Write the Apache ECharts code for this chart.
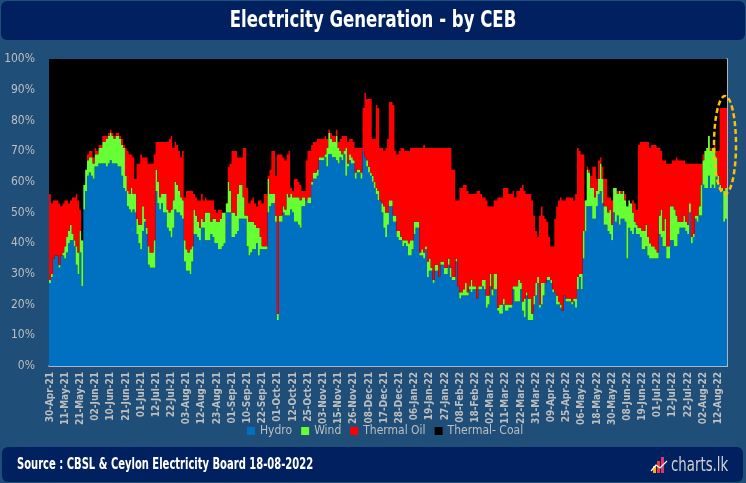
<!DOCTYPE html>
<html><head><meta charset="utf-8">
<script src="https://cdn.jsdelivr.net/npm/echarts@6/dist/echarts.min.js"></script>
<style>html,body{margin:0;padding:0;background:#fff}#c{width:746px;height:483px}</style>
</head><body><div id="c"></div>
<script>
const tickLabels = ['30-Apr-21','11-May-21','21-May-21','02-Jun-21','10-Jun-21','21-Jun-21','01-Jul-21','12-Jul-21','22-Jul-21','03-Aug-21','12-Aug-21','23-Aug-21','01-Sep-21','10-Sep-21','22-Sep-21','01-Oct-21','12-Oct-21','25-Oct-21','03-Nov-21','15-Nov-21','26-Nov-21','08-Dec-21','17-Dec-21','28-Dec-21','06-Jan-22','19-Jan-22','27-Jan-22','08-Feb-22','18-Feb-22','02-Mar-22','11-Mar-22','22-Mar-22','31-Mar-22','09-Apr-22','25-Apr-22','06-May-22','18-May-22','30-May-22','08-Jun-22','19-Jun-22','01-Jul-22','12-Jul-22','22-Jul-22','02-Aug-22','12-Aug-22'];

// share of generation (%) per reporting day
const hydro = [
27,29,35,36,36,32,36,36,35,37,40,41,41,39,33,30,37,26,51,57,
62,63,62,61,65,65,66,66,66,66,65,66,67,66,66,66,65,65,62,58,
57,52,51,50,51,50,43,40,38,44,47,43,33,32,32,32,57,53,51,53,
50,50,45,44,42,45,51,50,50,49,48,34,31,31,30,34,43,43,42,41,
45,45,41,41,41,43,42,40,40,38,38,39,40,50,50,50,42,42,43,44,
48,48,48,48,39,36,37,38,38,40,36,38,38,38,38,50,52,53,53,47,
15,47,47,50,49,49,49,51,50,47,47,46,45,52,52,54,53,53,59,61,
61,62,67,67,67,68,65,69,69,68,68,67,66,68,67,69,62,65,67,66,
66,61,63,63,61,70,68,65,63,62,60,58,56,54,54,50,45,42,46,52,
52,47,47,42,41,41,39,40,39,36,36,38,43,45,45,36,36,35,38,29,
31,31,27,31,31,29,33,33,30,30,33,29,28,28,34,26,22,23,23,23,
23,25,24,25,25,22,25,25,26,25,19,20,26,23,25,25,18,17,17,20,
18,18,19,19,25,21,21,21,25,18,16,23,15,15,15,20,23,27,19,20,
23,27,28,28,27,24,24,20,20,19,18,23,21,21,21,20,21,19,25,29,
25,35,44,52,52,52,48,48,52,56,57,53,46,46,44,43,41,50,47,49,
46,48,48,47,35,45,44,43,45,43,43,42,38,38,39,36,35,35,35,35,
35,43,42,39,39,35,35,41,41,39,39,43,45,45,45,44,43,50,40,42,
48,47,49,49,59,58,58,62,58,59,58,63,59,58,57,47,48];
const wind = [
1,1,0,0,0,1,0,1,4,5,4,5,2,2,6,7,7,15,8,7,
5,5,6,5,4,4,5,5,7,7,9,9,9,9,8,9,10,9,10,13,
5,5,5,8,5,6,5,6,8,8,1,2,6,5,5,9,7,7,4,3,
6,6,6,6,9,9,9,9,7,6,6,7,7,6,8,5,8,6,5,4,
3,2,9,9,9,4,6,8,7,9,10,11,10,3,10,7,8,8,6,12,
11,11,7,1,10,11,10,9,8,5,9,4,1,1,1,11,4,3,3,2,
2,2,2,2,2,7,6,5,5,8,8,9,9,3,3,0,2,2,1,2,
2,2,1,1,1,1,6,7,5,5,5,8,5,2,2,1,9,1,2,2,
1,2,1,1,2,0,0,2,2,1,2,2,2,3,0,3,7,8,4,2,
2,2,2,2,3,1,2,1,2,4,5,3,4,2,2,1,2,2,1,5,
4,1,1,2,2,0,1,1,2,2,2,3,1,1,1,0,2,1,2,4,
1,1,4,1,1,0,1,1,2,3,4,3,4,2,5,5,1,3,3,2,
2,2,1,1,1,5,5,7,2,3,6,1,7,7,2,3,4,2,1,7,
4,0,1,1,1,1,0,3,1,1,0,0,1,1,1,1,1,3,4,1,
5,9,10,12,11,6,10,7,5,5,9,8,6,6,6,8,5,8,11,7,
11,8,9,7,17,9,9,7,2,3,2,3,6,6,7,6,5,4,4,3,
2,6,9,5,9,4,4,11,11,12,10,4,2,2,4,3,3,3,2,1,
1,2,3,10,8,12,13,13,12,12,13,5,3,1,1,10,10];
const thermalOil = [
28,23,19,18,18,20,16,16,15,12,9,8,12,14,17,17,7,0,0,0,
2,2,2,2,2,1,1,1,2,2,1,1,1,1,1,1,1,1,2,1,
9,13,13,11,12,5,18,20,23,16,20,23,27,29,29,28,9,13,18,17,
17,17,22,24,24,17,13,13,13,13,16,14,19,20,19,18,5,6,7,9,
8,7,5,4,4,7,6,3,3,4,3,0,0,0,5,9,20,20,21,12,
9,9,16,22,9,6,7,8,7,7,9,12,14,17,17,1,8,14,14,13,
52,20,20,16,16,13,15,2,2,6,6,5,5,2,2,13,15,15,12,10,
10,10,6,6,6,6,3,1,2,2,2,2,2,4,6,5,4,7,5,6,
6,8,7,7,8,14,21,20,22,24,12,14,27,27,17,18,18,21,24,32,
32,36,21,25,26,29,30,29,29,30,30,30,24,24,24,34,33,35,32,37,
36,39,43,38,38,42,37,37,39,39,36,39,35,35,19,28,34,34,34,32,
33,30,28,30,30,35,31,30,27,27,31,29,22,27,24,24,36,35,35,36,
38,38,36,36,31,29,31,29,31,38,35,32,34,34,37,26,17,13,29,25,
22,21,18,13,11,14,24,29,33,35,36,31,33,33,33,34,32,34,42,40,
39,25,0,1,1,4,7,10,4,6,2,4,9,9,5,4,8,0,0,1,
0,1,0,2,0,0,0,4,6,5,27,28,29,29,27,31,31,33,33,34,
34,22,19,23,19,27,27,14,15,16,19,20,20,20,18,19,20,13,24,23,
17,17,14,7,2,0,0,0,1,0,1,2,8,25,26,27,26];
const thermalCoal = [
44,47,46,46,46,47,48,47,46,46,47,46,45,45,44,46,49,59,41,36,
31,30,30,32,29,30,28,28,25,25,25,24,23,24,25,24,24,25,26,28,
29,30,31,31,32,39,34,34,31,32,32,32,34,34,34,31,27,27,27,27,
27,27,27,26,25,29,27,28,30,32,30,45,43,43,43,43,44,45,46,46,
44,46,45,46,46,46,46,49,50,49,49,50,50,47,35,34,30,30,30,32,
32,32,29,29,42,47,46,45,47,48,46,46,47,44,44,38,36,30,30,38,
31,31,31,32,33,31,30,42,43,39,39,40,41,43,43,33,30,30,28,27,
27,26,26,26,26,25,26,23,24,25,25,23,27,26,25,25,25,27,26,26,
27,29,29,29,29,16,11,13,13,13,26,26,15,16,29,29,30,29,26,14,
14,15,30,31,30,29,29,30,30,30,29,29,29,29,29,29,29,28,29,29,
29,29,29,29,29,29,29,29,29,29,29,29,36,36,46,46,42,42,41,41,
43,44,44,44,44,43,43,44,45,45,46,48,48,48,46,46,45,45,45,42,
42,42,44,44,43,45,43,43,42,41,43,44,44,44,46,51,56,58,51,48,
51,52,53,58,61,61,52,48,46,45,46,46,45,45,45,45,46,44,29,30,
31,31,46,35,36,38,35,35,39,33,32,35,39,39,45,45,46,42,42,43,
43,43,43,44,48,46,47,46,47,49,28,27,27,27,27,27,29,28,28,28,
29,29,30,33,33,34,34,34,33,33,32,33,33,33,33,34,34,34,34,34,
34,34,34,34,31,30,29,25,29,29,28,30,30,16,16,16,16];

const seriesNames = ['Hydro','Wind','Thermal Oil','Thermal- Coal'];
const seriesColors = ['#0070C0','#66FF33','#FF0000','#000000'];
const categories = hydro.map((_, i) => {
  const k = Math.floor(i / 8), j = i % 8;
  return j === 0 ? tickLabels[k] : tickLabels[k] + ' +' + j;
});

const F = "'Liberation Sans Narrow','DejaVu Sans Condensed','Arial Narrow',sans-serif";
const chart = echarts.init(document.getElementById('c'), null, {renderer: 'canvas'});
const dataSets = [hydro, wind, thermalOil, thermalCoal];

chart.setOption({
  backgroundColor: '#1F4E79',
  animation: false,
  grid: {left: 49, right: 19, top: 59, bottom: 117, show: true, backgroundColor: '#000', borderWidth: 0},
  legend: {
    data: seriesNames, left: 247, top: 425, padding: 0, icon: 'rect',
    itemWidth: 8, itemHeight: 8, itemGap: 9,
    textStyle: {color: '#BFBFBF', fontSize: 12, fontFamily: F}
  },
  xAxis: {
    type: 'category', data: categories, boundaryGap: true,
    axisLine: {show: true, lineStyle: {color: '#D9D9D9', width: 1.5}},
    axisTick: {show: false},
    axisLabel: {interval: 7, rotate: 90, margin: 6, align: 'right', verticalAlign: 'middle',
      color: '#BFBFBF', fontSize: 10, fontFamily: F, fontWeight: 'bold'},
    splitLine: {show: false}
  },
  yAxis: [{
    type: 'value', min: 0, max: 100, interval: 10,
    axisLine: {show: false}, axisTick: {show: false}, splitLine: {show: false},
    axisLabel: {formatter: '{value}%', margin: 14, color: '#BFBFBF', fontSize: 12, fontFamily: F}
  }, {
    type: 'value', min: 0, max: 100, interval: 10, position: 'right',
    axisLine: {show: true, lineStyle: {color: '#D9D9D9', width: 1.5}},
    axisTick: {show: false}, splitLine: {show: false}, axisLabel: {show: false}
  }],
  series: seriesNames.map((n, si) => ({
    name: n, type: 'bar', stack: 'gen', data: dataSets[si],
    barCategoryGap: '0%', barGap: '0%',
    large: true, largeThreshold: 50,
    itemStyle: {color: seriesColors[si]},
    emphasis: {disabled: true}
  })),
  graphic: [
    {type: 'rect', z: 1, shape: {x: 1, y: 1, width: 744, height: 39, r: 6}, style: {fill: '#002060'}},
    {type: 'text', z: 2, x: 373, y: 21, scaleX: 0.8, originX: 0, originY: 0,
      style: {text: 'Electricity Generation - by CEB', fill: '#FFFFFF', fontSize: 23, fontWeight: 'bold', fontFamily: F, align: 'center', verticalAlign: 'middle'}},
    {type: 'rect', z: 1, shape: {x: 2, y: 447, width: 741, height: 35, r: 6}, style: {fill: '#002060'}},
    {type: 'text', z: 2, x: 17, y: 465, scaleX: 0.74, originX: 0, originY: 0,
      style: {text: 'Source : CBSL & Ceylon Electricity Board 18-08-2022', fill: '#FFFFFF', fontSize: 15, fontWeight: 'bold', fontFamily: F, verticalAlign: 'middle'}},
    {type: 'rect', z: 2, shape: {x: 653, y: 466, width: 3, height: 7}, style: {fill: '#F7B21E'}},
    {type: 'rect', z: 2, shape: {x: 657, y: 461, width: 3, height: 12}, style: {fill: '#F0402A'}},
    {type: 'rect', z: 2, shape: {x: 661, y: 457, width: 3, height: 16}, style: {fill: '#E0337A'}},
    {type: 'polyline', z: 3, shape: {points: [[651, 471], [656, 465], [660, 468], [667, 461]]}, style: {stroke: '#FFFFFF', lineWidth: 1.2, fill: null}},
    {type: 'text', z: 2, x: 671, y: 466, scaleX: 0.78, originX: 0, originY: 0,
      style: {text: 'charts.lk', fill: '#D0D0D0', fontSize: 19, fontFamily: F, verticalAlign: 'middle'}},
    {type: 'ellipse', z: 100, shape: {cx: 725, cy: 145, rx: 11, ry: 49}, style: {fill: null, stroke: '#FFC000', lineWidth: 2.5, lineDash: [5, 3]}}
  ]
});
</script></body></html>
